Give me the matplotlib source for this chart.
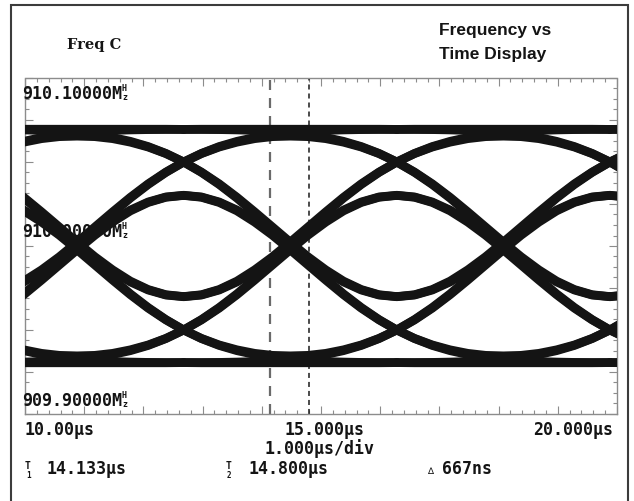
import matplotlib
matplotlib.use("Agg")
import matplotlib.pyplot as plt
from matplotlib.patches import Rectangle
from matplotlib.ticker import MultipleLocator

W, H = 634, 502

# sweep window and frequency window
T_START, T_END = 10.0, 20.0          # us
F_CENTER = 910.0                     # MHz
F_LOW, F_HIGH = 909.9, 910.1         # MHz

# cursor readout
T1_US = 14.133
T2_US = 14.800
DELTA_NS = 667

# eye segments start at each symbol centre and last one symbol (3.6 us)
SYMBOL_START_US = [9.08, 12.68, 16.28, 19.88]
SEGMENT_US = [0.0, 0.3, 0.6, 0.9, 1.2, 1.5, 1.8, 2.1, 2.4, 2.7, 3.0, 3.3, 3.6]

# deviation from 910 MHz in kHz along one symbol, by bit pattern
# (previous, current, next, one after); the 0-led patterns mirror these
DEV_1111 = [69.4, 69.5, 69.5, 69.5, 69.5, 69.5, 69.5, 69.5, 69.5, 69.5, 69.5, 69.5, 69.4]
DEV_1110 = [69.4, 69.4, 69.3, 69.1, 68.8, 68.3, 67.5, 66.3, 64.6, 62.3, 59.2, 55.1, 50.0]
DEV_0111 = [50.0, 55.1, 59.2, 62.3, 64.6, 66.3, 67.5, 68.3, 68.8, 69.1, 69.3, 69.4, 69.4]
DEV_0110 = [50.0, 55.0, 58.9, 61.8, 63.9, 65.1, 65.4, 65.1, 63.9, 61.8, 58.9, 55.0, 50.0]
DEV_1101 = [50.0, 44.0, 37.0, 29.0, 20.3, 11.3, 2.3, -6.4, -14.2, -20.9, -25.9, -29.0, -30.1]
DEV_1100 = [50.0, 43.8, 36.6, 28.5, 19.5, 9.9, 0.0, -9.9, -19.5, -28.5, -36.6, -43.8, -50.0]
DEV_0101 = [30.2, 29.2, 26.2, 21.4, 15.1, 7.8, 0.0, -7.8, -15.1, -21.4, -26.2, -29.2, -30.2]
DEV_0100 = [30.1, 29.0, 25.9, 20.9, 14.2, 6.4, -2.3, -11.3, -20.3, -29.0, -37.0, -44.0, -50.0]

PATTERNS = [DEV_1111, DEV_1110, DEV_0111, DEV_0110, DEV_1101, DEV_1100, DEV_0101, DEV_0100]

INK = "#141414"
GRID = "#8c8c8c"
MONO = {"family": "DejaVu Sans Mono", "weight": "bold", "size": 12, "color": INK}


def fx(x):
    return x / W


def fy(y):
    return 1 - y / H


fig = plt.figure(figsize=(W / 100, H / 100), dpi=100)
ax = fig.add_axes([fx(25), fy(415), (617 - 25) / W, (415 - 79) / H])

# overlay every pattern and its mirror at each symbol
for start in SYMBOL_START_US:
    t = [start + s for s in SEGMENT_US]
    for dev in PATTERNS:
        for sign in (1, -1):
            f = [F_CENTER + sign * d / 1000 for d in dev]
            ax.plot(t, f, color=INK, lw=6.3, solid_capstyle="round",
                    solid_joinstyle="round", zorder=3)

# time cursors
ax.axvline(T1_US, color="#6a6a6a", lw=1.6, dashes=(4.5, 3.6), zorder=2)
ax.axvline(T2_US, color="#1a1a1a", lw=1.1, dashes=(3.3, 2.6), zorder=2)

ax.set_xlim(T_START, T_END)
ax.set_ylim(F_LOW, F_HIGH)
ax.xaxis.set_major_locator(MultipleLocator(1.0))
ax.xaxis.set_minor_locator(MultipleLocator(0.2))
ax.yaxis.set_major_locator(MultipleLocator(0.025))
ax.yaxis.set_minor_locator(MultipleLocator(0.00625))
ax.tick_params(which="both", direction="in", top=True, right=True,
               labelbottom=False, labelleft=False, color=GRID, width=0.8)
ax.tick_params(which="major", length=5.5)
ax.tick_params(which="minor", length=2.8)
for sp in ax.spines.values():
    sp.set_linestyle((0, (1, 1)))
    sp.set_color(GRID)
    sp.set_linewidth(1.0)


def freq_label(x, y, value):
    txt = fig.text(fx(x), fy(y), f"{value:.5f}M", va="baseline", ha="left",
                   fontdict=MONO, zorder=5)
    small = {"family": "DejaVu Sans Mono", "weight": "bold", "size": 6, "color": INK}
    ax.annotate("H", xy=(1.0, 0.55), xycoords=txt, ha="left", va="bottom",
                annotation_clip=False, **small)
    ax.annotate("z", xy=(1.0, 0.55), xycoords=txt, ha="left", va="top",
                annotation_clip=False, **small)


freq_label(22, 99, F_HIGH)
freq_label(22, 237, F_CENTER)
freq_label(22, 406, F_LOW)

# time axis readout
fig.text(fx(25), fy(435), f"{T_START:.2f}µs", ha="left", va="baseline", fontdict=MONO)
fig.text(fx(324), fy(435), f"{(T_START + T_END) / 2:.3f}µs", ha="center", va="baseline", fontdict=MONO)
fig.text(fx(613), fy(435), f"{T_END:.3f}µs", ha="right", va="baseline", fontdict=MONO)
fig.text(fx(319), fy(454), f"{(T_END - T_START) / 10:.3f}µs/div", ha="center", va="baseline", fontdict=MONO)


def cursor_label(x, y, idx, value):
    small = {"family": "DejaVu Sans Mono", "weight": "bold", "size": 7, "color": INK}
    fig.text(fx(x), fy(y - 5), "T", ha="left", va="baseline", fontdict=small)
    fig.text(fx(x + 1), fy(y + 4), str(idx), ha="left", va="baseline",
             fontdict=dict(small, size=5.5))
    fig.text(fx(x + 22), fy(y), f"{value:.3f}µs", ha="left", va="baseline", fontdict=MONO)


cursor_label(25, 474, 1, T1_US)
cursor_label(226, 474, 2, T2_US)
fig.text(fx(427), fy(474), "∆", ha="left", va="baseline",
         fontdict={"family": "DejaVu Sans", "size": 6.5, "color": INK})
fig.text(fx(442), fy(474), f"{DELTA_NS}ns", ha="left", va="baseline", fontdict=MONO)

# headings
fig.text(fx(67), fy(49), "Freq C", ha="left", va="baseline",
         family="DejaVu Serif", weight="bold", size=10.5, color=INK)
head = {"family": ["Liberation Sans Narrow", "Liberation Sans"], "weight": "bold",
        "size": 12.5, "color": INK}
fig.text(fx(439), fy(35), "Frequency vs", ha="left", va="baseline", fontdict=head)
fig.text(fx(439), fy(59), "Time Display", ha="left", va="baseline", fontdict=head)

# panel outline
fig.add_artist(Rectangle((fx(11), -0.05), (628 - 11) / W, fy(6) + 0.05,
                         transform=fig.transFigure, fill=False,
                         edgecolor="#3c3c3c", lw=1.5))

fig.savefig("out.png", dpi=100)
